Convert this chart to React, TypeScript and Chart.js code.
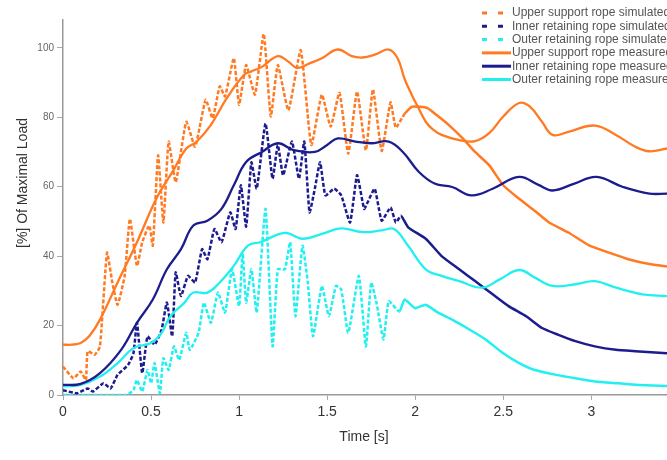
import React, { useEffect, useRef } from 'react';
import { Chart, registerables } from 'chart.js';

Chart.register(...registerables);

// ---- Data (time in s, load in % of maximal load) ----
const upperSimT = [0, 0.06, 0.10, 0.13, 0.14, 0.18, 0.21, 0.25, 0.28, 0.31, 0.35, 0.38, 0.42, 0.45, 0.49, 0.51, 0.54, 0.57, 0.60, 0.64, 0.70, 0.75, 0.81, 0.85, 0.89, 0.92, 0.97, 1.00, 1.04, 1.09, 1.14, 1.18, 1.22, 1.28, 1.35, 1.41, 1.47, 1.52, 1.57, 1.62, 1.67, 1.72, 1.76, 1.81, 1.86, 1.89, 1.94, 1.98, 2.03, 2.07, 2.12, 2.19, 2.27, 2.34, 2.42, 2.50, 2.59, 2.68, 2.76, 2.87, 2.99, 3.10, 3.21, 3.33, 3.43];
const upperSimV = [8.2, 4.8, 6.8, 4.3, 12.6, 11.6, 14, 41, 32.4, 26, 34.3, 50.7, 37.2, 44, 48.8, 43, 69, 49.7, 73, 61.3, 78.7, 71.5, 85, 79.7, 88.9, 86, 97, 83.6, 95, 86.5, 104, 80.2, 95, 82, 99.3, 72, 86.5, 77.3, 87, 69.5, 87.4, 70.5, 88, 70.3, 84.3, 77, 81, 83, 83, 82.6, 80.7, 77.8, 73.9, 70, 66.2, 60.4, 56.5, 53, 49.7, 46.8, 43, 41, 39.1, 37.7, 37];

const innerSimT = [0, 0.08, 0.14, 0.17, 0.23, 0.27, 0.31, 0.37, 0.40, 0.42, 0.45, 0.48, 0.52, 0.56, 0.59, 0.62, 0.64, 0.67, 0.71, 0.75, 0.79, 0.82, 0.86, 0.90, 0.95, 0.98, 1.01, 1.04, 1.07, 1.10, 1.15, 1.19, 1.22, 1.25, 1.30, 1.34, 1.37, 1.40, 1.43, 1.46, 1.49, 1.54, 1.58, 1.63, 1.67, 1.71, 1.73, 1.77, 1.81, 1.86, 1.89, 1.92, 1.96, 2.06, 2.15, 2.25, 2.34, 2.44, 2.53, 2.63, 2.72, 2.81, 2.91, 3.02, 3.14, 3.25, 3.43];
const innerSimV = [1.4, 0.5, 1.9, 1, 3.4, 1.9, 5.8, 8.7, 12, 20.8, 6.3, 16.9, 14.5, 18.8, 26.6, 16.9, 35.3, 28.5, 34.3, 32.4, 42, 39.1, 47.8, 44, 52.6, 47.8, 60.4, 48.5, 67, 59.4, 78.2, 62.3, 72, 63.3, 73, 62.3, 73, 52.6, 59.4, 67, 57.5, 59.4, 57.5, 49.7, 63.3, 53.6, 55.5, 59.4, 50.2, 54, 49.7, 51.6, 48.3, 45, 40, 36.2, 32.8, 29, 25.6, 22.7, 19.3, 17.4, 15.5, 14, 13, 12.6, 12];

const outerSimT = [0, 0.36, 0.40, 0.42, 0.45, 0.48, 0.50, 0.52, 0.55, 0.57, 0.60, 0.63, 0.66, 0.70, 0.72, 0.77, 0.80, 0.84, 0.88, 0.92, 0.96, 1.00, 1.02, 1.04, 1.07, 1.10, 1.15, 1.19, 1.22, 1.26, 1.29, 1.32, 1.36, 1.39, 1.42, 1.47, 1.51, 1.55, 1.58, 1.62, 1.68, 1.72, 1.75, 1.78, 1.82, 1.85, 1.91, 1.94, 2.00, 2.06, 2.13, 2.21, 2.31, 2.40, 2.50, 2.59, 2.68, 2.80, 2.91, 3.02, 3.14, 3.27, 3.43];
const outerSimV = [0, 0, 1.4, 4.3, 1, 7.2, 3.4, 9.2, 0.5, 10.6, 7.2, 14, 10.1, 17.9, 13, 17.9, 26.6, 20.8, 29.5, 23.7, 36.2, 25.6, 41, 26.6, 36.2, 23.7, 53.6, 14, 36.2, 36.2, 44, 22.7, 43, 32.4, 16.9, 31.4, 22.7, 31.4, 30.4, 17.9, 34.3, 14, 32.4, 26.6, 16, 27, 24, 27.5, 25, 26, 23.7, 21.7, 18.8, 16, 12, 9.2, 7.2, 5.8, 4.8, 3.9, 3.4, 2.9, 2.6];

const upperMeasT = [0, 0.05, 0.10, 0.15, 0.21, 0.31, 0.42, 0.53, 0.63, 0.70, 0.76, 0.84, 0.93, 1.03, 1.07, 1.13, 1.22, 1.28, 1.33, 1.40, 1.47, 1.56, 1.64, 1.70, 1.77, 1.85, 1.90, 1.94, 1.98, 2.02, 2.06, 2.10, 2.15, 2.25, 2.34, 2.42, 2.50, 2.59, 2.65, 2.72, 2.78, 2.87, 3.02, 3.14, 3.25, 3.33, 3.43];
const upperMeasV = [14.5, 14.5, 15, 17, 21.7, 32.4, 44, 56.5, 65, 71, 73, 77.8, 85.5, 92.3, 93.2, 94.5, 97.6, 96, 94.2, 95.5, 97, 99.5, 97.6, 97.2, 98, 99.5, 97, 91, 86.5, 82.5, 78.7, 76.5, 74.9, 73.4, 73.1, 75.4, 80.2, 84.1, 83.1, 78.7, 74.9, 75.8, 77.6, 74.9, 71.5, 70.2, 71];

const innerMeasT = [0, 0.10, 0.21, 0.33, 0.42, 0.51, 0.59, 0.67, 0.74, 0.82, 0.90, 0.97, 1.04, 1.13, 1.22, 1.31, 1.43, 1.50, 1.56, 1.66, 1.75, 1.85, 1.93, 2.02, 2.11, 2.21, 2.32, 2.44, 2.59, 2.70, 2.78, 2.90, 3.03, 3.18, 3.33, 3.43];
const innerMeasV = [2.9, 3.2, 6.3, 13, 20.8, 27.5, 36.2, 42, 48.8, 50.2, 53.6, 60.4, 67.1, 70, 72.5, 70.5, 70, 72, 73.9, 73, 72.5, 73, 70, 64.3, 60.9, 59.9, 57.5, 59.4, 62.8, 60.5, 58.9, 60.8, 62.8, 59.9, 58, 58];

const outerMeasT = [0, 0.10, 0.21, 0.31, 0.40, 0.50, 0.56, 0.61, 0.69, 0.74, 0.82, 0.89, 0.97, 1.05, 1.12, 1.26, 1.36, 1.47, 1.58, 1.70, 1.81, 1.88, 1.96, 2.06, 2.15, 2.25, 2.38, 2.48, 2.59, 2.68, 2.78, 2.91, 3.02, 3.14, 3.29, 3.43];
const outerMeasV = [2.5, 2.9, 5.3, 9.2, 13.5, 15, 17.9, 22.7, 26.6, 29.5, 29.5, 32.4, 37.2, 43, 44, 46.7, 45, 46.4, 48, 46.9, 47.4, 47.8, 43, 36.2, 34.3, 32.8, 30.9, 33.3, 36, 33.8, 31.4, 31.9, 32.8, 30.9, 29, 28.5];

const xTicks = [0, 0.5, 1, 1.5, 2, 2.5, 3];
const yTicks = [0, 20, 40, 60, 80, 100];

const seriesLabels = [
  'Upper support rope simulated',
  'Inner retaining rope simulated',
  'Outer retaining rope simulated',
  'Upper support rope measured',
  'Inner retaining rope measured',
  'Outer retaining rope measured',
];

const ORANGE = '#ff7a22';
const NAVY = '#1c1c8e';
const CYAN = '#22f0f0';
const FONT = '"Liberation Sans", Arial, Helvetica, sans-serif';

function pts(t: number[], v: number[]) {
  return t.map((x, i) => ({ x, y: v[i] }));
}

const overlayPlugin = {
  id: 'overlay',
  afterDraw(chart: any) {
    const ctx = chart.ctx as CanvasRenderingContext2D;
    ctx.save();
    const colors = [ORANGE, NAVY, CYAN, ORANGE, NAVY, CYAN];
    seriesLabels.forEach((label, i) => {
      const y = 13 + i * 13.3;
      const dashed = i < 3;
      ctx.strokeStyle = colors[i];
      ctx.lineWidth = 3;
      ctx.setLineDash(dashed ? [5, 11] : []);
      ctx.beginPath();
      ctx.moveTo(482, y);
      ctx.lineTo(511, y);
      ctx.stroke();
      ctx.setLineDash([]);
      ctx.fillStyle = '#555';
      ctx.font = '12px ' + FONT;
      ctx.textBaseline = 'middle';
      ctx.textAlign = 'left';
      ctx.fillText(label, 512, y);
    });
    ctx.fillStyle = '#333';
    ctx.font = '14px ' + FONT;
    ctx.textAlign = 'center';
    ctx.textBaseline = 'middle';
    ctx.fillText('Time [s]', 364, 437);
    ctx.translate(23, 183);
    ctx.rotate(-Math.PI / 2);
    ctx.fillText('[%] Of Maximal Load', 0, 0);
    ctx.restore();
  },
};

export default function App() {
  const ref = useRef<HTMLCanvasElement | null>(null);
  useEffect(() => {
    if (!ref.current) return;
    const dashSeg = { borderDash: (c: any) => (c.p0.parsed.x < 1.9 ? [4, 2] : undefined) };
    const mk = (label: string, t: number[], v: number[], color: string, sim: boolean) => ({
      label,
      data: pts(t, v),
      borderColor: color,
      backgroundColor: color,
      borderWidth: sim ? 2.5 : 2.3,
      pointRadius: 0,
      tension: sim ? 0.15 : 0.4,
      borderDash: [],
      segment: sim ? dashSeg : undefined,
      fill: false,
    });
    const chart = new Chart(ref.current, {
      type: 'line',
      data: {
        datasets: [
          mk(seriesLabels[3], upperMeasT, upperMeasV, ORANGE, false),
          mk(seriesLabels[4], innerMeasT, innerMeasV, NAVY, false),
          mk(seriesLabels[5], outerMeasT, outerMeasV, CYAN, false),
          mk(seriesLabels[0], upperSimT, upperSimV, ORANGE, true),
          mk(seriesLabels[1], innerSimT, innerSimV, NAVY, true),
          mk(seriesLabels[2], outerSimT, outerSimV, CYAN, true),
        ] as any,
      },
      options: {
        animation: false,
        responsive: false,
        devicePixelRatio: 1,
        layout: { padding: { top: 20, right: 0, left: 0, bottom: 0 } },
        plugins: { legend: { display: false }, tooltip: { enabled: false } },
        scales: {
          x: {
            type: 'linear',
            min: 0,
            max: 3.43,
            afterFit: (s: any) => { s.height = 65; },
            afterBuildTicks: (s: any) => { s.ticks = xTicks.map((v) => ({ value: v })); },
            ticks: {
              includeBounds: false,
              color: '#333',
              font: { family: FONT, size: 14 },
              padding: 4,
              maxRotation: 0,
              callback: (v: any) => String(v),
            },
            grid: { drawOnChartArea: false, color: '#aaa', tickLength: 5 },
            border: { color: '#999', width: 1.5 },
          },
          y: {
            type: 'linear',
            min: 0,
            max: 108,
            afterFit: (s: any) => { s.width = 63; },
            afterBuildTicks: (s: any) => { s.ticks = yTicks.map((v) => ({ value: v })); },
            ticks: {
              includeBounds: false,
              color: '#666',
              font: { family: FONT, size: 10 },
              padding: 3,
            },
            grid: { drawOnChartArea: false, color: '#aaa', tickLength: 6 },
            border: { color: '#999', width: 1.5 },
          },
        },
      },
      plugins: [overlayPlugin],
    } as any);
    return () => chart.destroy();
  }, []);
  return (
    <div style={{ position: 'fixed', left: 0, top: 0, width: 667, height: 460, background: '#fff' }}>
      <canvas ref={ref} width={667} height={460} />
    </div>
  );
}
